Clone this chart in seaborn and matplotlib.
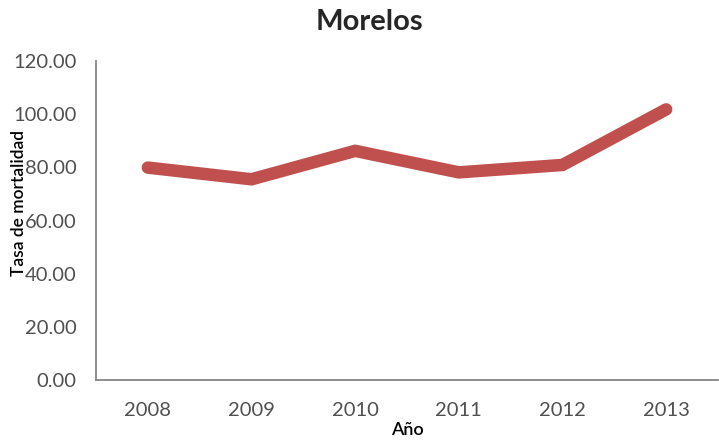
import matplotlib
matplotlib.use("Agg")
import matplotlib.pyplot as plt
import seaborn as sns
import pandas as pd

# values
years = ["2008", "2009", "2010", "2011", "2012", "2013"]
tasa = [79.9, 75.5, 86.2, 78.1, 80.9, 101.8]

df = pd.DataFrame({"Año": years, "Tasa": tasa})

sns.set_style("white")
plt.rcParams['font.family'] = ['Lato', 'DejaVu Sans']

fig = plt.figure(figsize=(7.19, 4.42), dpi=100)
ax = fig.add_axes([96 / 719, 1 - 380 / 442, 622 / 719, 319 / 442])

sns.lineplot(data=df, x="Año", y="Tasa", ax=ax, color="#C0504D",
             linewidth=9, solid_capstyle="round", solid_joinstyle="miter",
             sort=False)

ax.set_xlim(-0.5, 5.5)
ax.set_ylim(0, 120)
ax.set_yticks(range(0, 121, 20))
ax.set_yticklabels(["{:.2f}".format(v) for v in range(0, 121, 20)])

for s in ("top", "right"):
    ax.spines[s].set_visible(False)
for s in ("left", "bottom"):
    ax.spines[s].set_color("#868686")
    ax.spines[s].set_linewidth(1.3)

ax.tick_params(axis="both", length=0, labelsize=14.5, labelcolor="#505050")
ax.tick_params(axis="x", pad=16)
ax.tick_params(axis="y", pad=14)

ax.set_xlabel("Año", fontsize=13, color="black", labelpad=2,
              fontweight="semibold")
ax.set_ylabel("")
fig.text(19 / 719, 1 - 203 / 442, "Tasa de mortalidad", rotation=90,
         ha="center", va="center", fontsize=12.5, color="black",
         fontweight="semibold")

fig.suptitle("Morelos", x=369 / 719, y=1 - 22 / 442, va="center",
             fontsize=21, fontweight="bold")

fig.savefig("out.png", dpi=100)
